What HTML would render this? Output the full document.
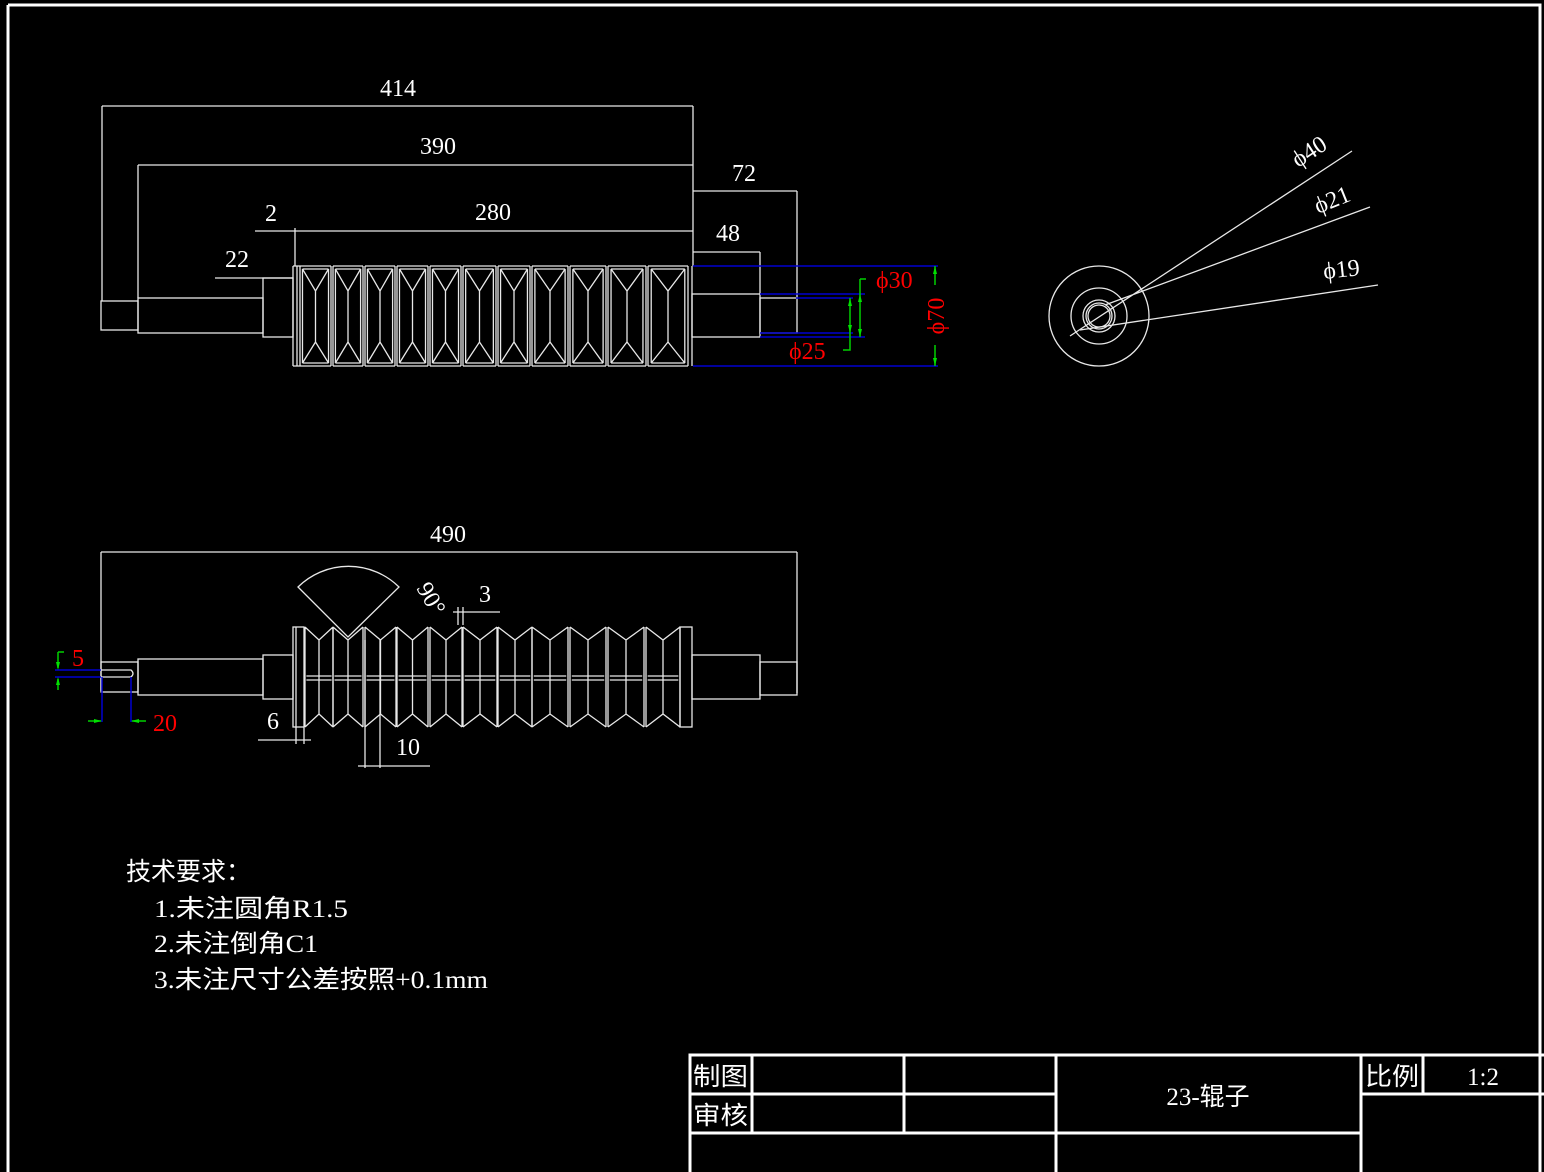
<!DOCTYPE html>
<html><head><meta charset="utf-8"><style>
html,body{margin:0;padding:0;background:#000;}
svg{display:block;}
text{font-family:"Liberation Serif","Noto Serif CJK SC",serif;fill:#fff;}
.cj{font-family:"Liberation Serif","Noto Sans CJK SC",sans-serif;}
</style></head><body>
<svg width="1544" height="1172" viewBox="0 0 1544 1172" xmlns="http://www.w3.org/2000/svg">
<defs>
<g id="ts" fill="none" stroke="#e8e8e8" stroke-width="1.3">
<path vector-effect="non-scaling-stroke" d="M0 266V366M1 266V366M0.08 269H0.92M0.08 363H0.92M0.08 269L0.5 291L0.92 269M0.08 363L0.5 342L0.92 363M0.08 269V363M0.92 269V363M0.5 291V342M1 266H0M1 366H0"/>
</g>
<g id="bs" fill="none" stroke="#e8e8e8" stroke-width="1.3">
<path vector-effect="non-scaling-stroke" d="M0 627V727M1 627V727M0 627L0.5 640L1 627M0 727L0.5 714L1 727M0.5 640V714M0.05 676H0.95M0.05 680H0.95"/>
</g>
</defs>
<g fill="none" stroke="#fff" stroke-width="3">
<path d="M8 5H1540V1172M8 5V1172"/>
<path d="M690 1172V1055H1544M690 1094H1056M690 1133H1361M1361 1094H1544M752 1055V1133M904 1055V1133M1056 1055V1172M1361 1055V1172M1423 1055V1094"/>
</g>
<!-- top view -->
<g fill="none" stroke="#e8e8e8" stroke-width="1.3">
<rect x="101" y="301" width="37" height="29"/>
<rect x="138" y="298" width="125" height="35"/>
<rect x="263" y="278" width="30" height="59"/>
<path d="M293 266V366M297 266V366M293 266H300M293 366H300"/>
<rect x="692" y="294" width="68" height="43"/>
<path d="M692 266V366"/>
<rect x="760" y="298" width="37" height="35"/>
<!-- dims -->
<path d="M102 106H693M102 106V301M693 106V266M138 165H693M138 165V298M693 191H797M797 191V298M693 252H760M760 252V294M297 231H693M255 231H297M295 228V266M215 278H293"/>
</g>
<use href="#ts" transform="translate(300 0) scale(31 1)"/>
<use href="#ts" transform="translate(333 0) scale(30 1)"/>
<use href="#ts" transform="translate(365 0) scale(30 1)"/>
<use href="#ts" transform="translate(397 0) scale(31 1)"/>
<use href="#ts" transform="translate(430 0) scale(31 1)"/>
<use href="#ts" transform="translate(463 0) scale(33 1)"/>
<use href="#ts" transform="translate(498 0) scale(32 1)"/>
<use href="#ts" transform="translate(532 0) scale(36 1)"/>
<use href="#ts" transform="translate(570 0) scale(36 1)"/>
<use href="#ts" transform="translate(608 0) scale(38 1)"/>
<use href="#ts" transform="translate(648 0) scale(40 1)"/>
<g fill="none" stroke-width="1.5">
<path stroke="#0000d0" d="M693 266H938M693 366H938M760 294H865M760 337H865M796 298H853M760 333H853"/>
<path stroke="#00d000" d="M860 294V337M860 279V294M860 279H866M850 298V350H843M935 266V285M935 345V366"/>
</g>
<g fill="#00e000">
<path d="M860 294l-2 8h4zM860 337l-2-8h4zM850 298l-2 8h4zM850 333l-2-8h4zM935 266l-2 8h4zM935 366l-2-8h4z"/>
</g>
<g font-size="24">
<text x="398" y="96" text-anchor="middle">414</text>
<text x="438" y="154" text-anchor="middle">390</text>
<text x="744" y="181" text-anchor="middle">72</text>
<text x="728" y="241" text-anchor="middle">48</text>
<text x="493" y="220" text-anchor="middle">280</text>
<text x="271" y="221" text-anchor="middle">2</text>
<text x="237" y="267" text-anchor="middle">22</text>
<text x="876" y="288" fill="#ff0000" style="fill:#ff0000">ϕ30</text>
<text x="789" y="359" style="fill:#ff0000">ϕ25</text>
<text x="0" y="0" style="fill:#ff0000" text-anchor="middle" transform="translate(944 316) rotate(-90)">ϕ70</text>
</g>
<!-- circle view -->
<g fill="none" stroke="#e8e8e8" stroke-width="1.3">
<circle cx="1099" cy="316" r="50"/>
<circle cx="1099" cy="316" r="28"/>
<circle cx="1099" cy="316" r="16"/>
<circle cx="1099" cy="316" r="13"/>
<circle cx="1099" cy="316" r="11"/>
<path d="M1070 336L1352 151M1105 305L1370 207M1080 330L1378 285"/>
</g>
<g font-size="24">
<text transform="translate(1298 168) rotate(-33)">ϕ40</text>
<text transform="translate(1318 214) rotate(-22)">ϕ21</text>
<text transform="translate(1324 279) rotate(-6)">ϕ19</text>
</g>
<!-- bottom view -->
<g fill="none" stroke="#e8e8e8" stroke-width="1.3">
<path d="M101 552H797M101 552V691M797 552V693"/>
<rect x="101" y="662" width="37" height="30"/>
<path d="M101 670H131Q135 673.5 131 677H101"/>
<rect x="138" y="659" width="125" height="36"/>
<rect x="263" y="655" width="30" height="44"/>
<rect x="293" y="627" width="11" height="100"/>
<path d="M296 627V727"/>
<rect x="680" y="627" width="12" height="100"/>
<rect x="692" y="655" width="68" height="44"/>
<rect x="760" y="662" width="37" height="33"/>
<path d="M298 587L348 637L399 587A72 72 0 0 0 298 587Z"/>
<path d="M453 612H500M458 607V625M463 607V625M258 740H311M296 727V744M304 727V744M358 766H430M365 640V768M380 640V768"/>
</g>
<use href="#bs" transform="translate(305 0) scale(28 1)"/>
<use href="#bs" transform="translate(333 0) scale(30 1)"/>
<use href="#bs" transform="translate(365 0) scale(31 1)"/>
<use href="#bs" transform="translate(397 0) scale(31 1)"/>
<use href="#bs" transform="translate(430 0) scale(32 1)"/>
<use href="#bs" transform="translate(463 0) scale(34 1)"/>
<use href="#bs" transform="translate(498 0) scale(34 1)"/>
<use href="#bs" transform="translate(532 0) scale(36 1)"/>
<use href="#bs" transform="translate(570 0) scale(36 1)"/>
<use href="#bs" transform="translate(608 0) scale(36 1)"/>
<use href="#bs" transform="translate(646 0) scale(34 1)"/>
<g fill="none" stroke-width="1.5">
<path stroke="#0000d0" d="M55 670H101M55 677H101M102 677V722M131 677V722"/>
<path stroke="#00d000" d="M58 652V668M58 679V690M58 652H64M88 721H101M132 721H146"/>
</g>
<g fill="#00e000"><path d="M58 670l-2-8h4zM58 677l-2 8h4zM102 721l-8-2v4zM131 721l8-2v4z"/></g>
<g font-size="24">
<text x="448" y="542" text-anchor="middle">490</text>
<text x="485" y="602" text-anchor="middle">3</text>
<text x="273" y="729" text-anchor="middle">6</text>
<text x="408" y="755" text-anchor="middle">10</text>
<text transform="translate(416 588) rotate(60)">90°</text>
<text x="72" y="666" style="fill:#ff0000">5</text>
<text x="153" y="731" style="fill:#ff0000">20</text>
</g>
<!-- notes -->
<g class="cj" font-size="25">
<text x="126" y="880" class="cj" textLength="125" lengthAdjust="spacingAndGlyphs">技术要求：</text>
<text x="154" y="917" class="cj" textLength="194" lengthAdjust="spacingAndGlyphs">1.未注圆角R1.5</text>
<text x="154" y="952" class="cj" textLength="164" lengthAdjust="spacingAndGlyphs">2.未注倒角C1</text>
<text x="154" y="988" class="cj" textLength="334" lengthAdjust="spacingAndGlyphs">3.未注尺寸公差按照+0.1mm</text>
<text x="693" y="1085" class="cj" textLength="55" lengthAdjust="spacingAndGlyphs">制图</text>
<text x="693" y="1124" class="cj" textLength="55" lengthAdjust="spacingAndGlyphs">审核</text>
<text x="1208" y="1105" class="cj" text-anchor="middle">23-辊子</text>
<text x="1365" y="1085" class="cj" textLength="54" lengthAdjust="spacingAndGlyphs">比例</text>
<text x="1483" y="1085" class="cj" text-anchor="middle">1:2</text>
</g>
</svg>
</body></html>
